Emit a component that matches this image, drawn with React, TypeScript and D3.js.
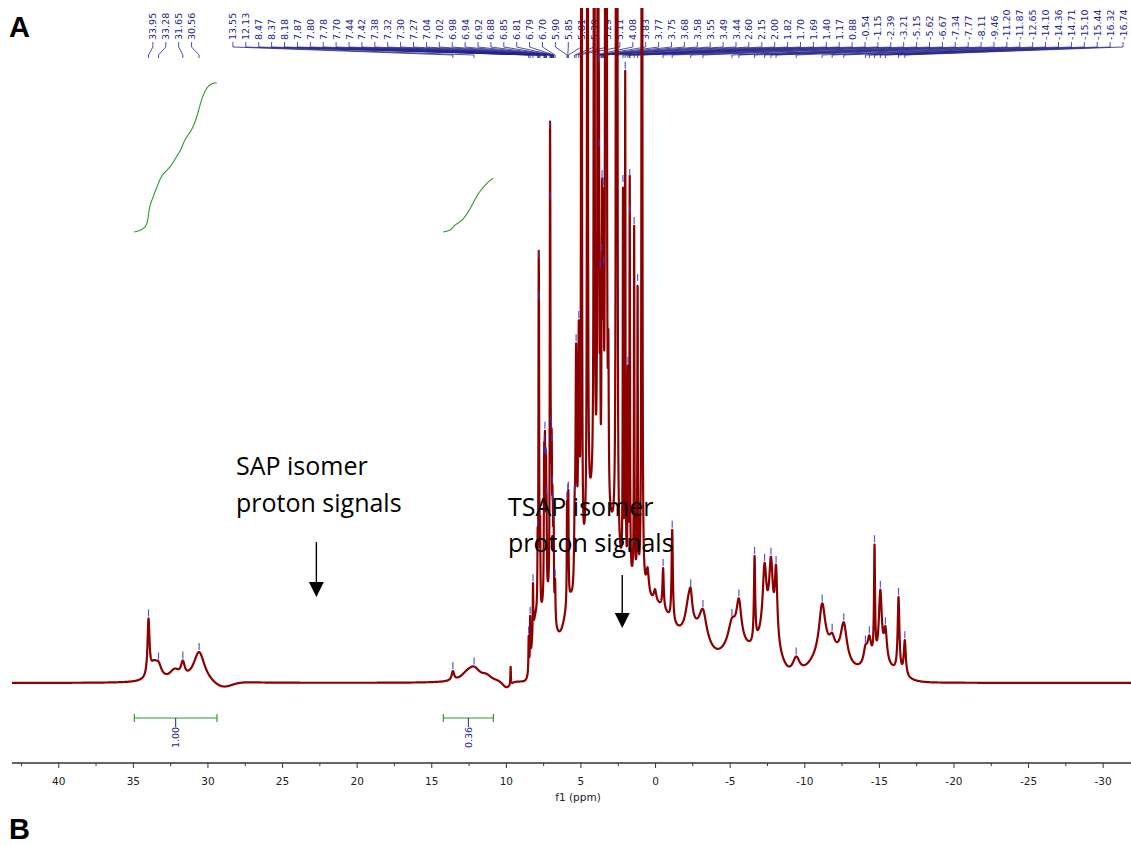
import React, { useEffect, useRef } from 'react';
import * as d3 from 'd3';

// sharp signals: [ppm, height, half-width in ppm]
const sharpPeaks: [number, number, number][] = [
  [33.95, 56, 0.08], [33.6, 14, 0.3], [33.28, 12, 0.25], [32.2, 10, 0.4], [31.65, 14, 0.15], [30.56, 30, 0.45],
  [13.55, 9, 0.1], [12.6, 6, 0.5], [12.13, 12, 0.5], [11.3, 5, 0.4], [9.68, 18, 0.02],
  [8.47, 35, 0.02], [8.37, 45, 0.02], [8.18, 50, 0.02], [7.87, 60, 0.02], [7.8, 260, 0.02], [7.78, 180, 0.02],
  [7.7, 80, 0.02], [7.44, 90, 0.02], [7.42, 80, 0.02], [7.38, 130, 0.02], [7.32, 80, 0.02], [7.3, 70, 0.02],
  [7.27, 60, 0.02], [7.04, 360, 0.02], [7.02, 200, 0.02], [6.98, 80, 0.02], [6.94, 90, 0.02], [6.92, 80, 0.02],
  [6.88, 70, 0.02], [6.85, 60, 0.02], [6.81, 60, 0.02], [6.79, 50, 0.02], [6.7, 40, 0.03],
  [5.9, 90, 0.02], [5.85, 80, 0.02], [5.81, 90, 0.02], [5.39, 60, 0.04], [5.29, 240, 0.05], [5.11, 250, 0.05],
  [4.93, 3000, 0.015], [4.53, 3000, 0.015], [4.08, 3000, 0.015], [3.83, 3000, 0.015],
  [3.77, 180, 0.02], [3.75, 150, 0.02], [3.68, 180, 0.02], [3.58, 150, 0.02], [3.55, 240, 0.02],
  [3.49, 250, 0.02], [3.44, 150, 0.02], [3.32, 3000, 0.015], [3.26, 3000, 0.015], [3.13, 140, 0.03],
  [2.6, 3000, 0.015], [2.54, 2000, 0.015], [2.15, 380, 0.02], [2.0, 500, 0.02], [1.82, 200, 0.02],
  [1.7, 300, 0.02], [1.69, 120, 0.02], [1.4, 350, 0.02], [1.17, 290, 0.02], [0.88, 3000, 0.015],
  [0.5, 25, 0.1], [0.0, 12, 0.1], [-0.54, 40, 0.05], [-1.15, 92, 0.05], [-2.25, 28, 0.25], [-2.39, 20, 0.12],
  [-3.21, 30, 0.3], [-5.15, 22, 0.3], [-5.62, 40, 0.2], [-6.67, 85, 0.05], [-7.34, 65, 0.15], [-7.77, 70, 0.15],
  [-8.11, 70, 0.1], [-9.46, 18, 0.3], [-11.2, 50, 0.25], [-11.87, 12, 0.2], [-12.65, 38, 0.25],
  [-14.1, 15, 0.15], [-14.36, 24, 0.15], [-14.71, 110, 0.04], [-15.1, 70, 0.12], [-15.44, 32, 0.12],
  [-16.32, 75, 0.07], [-16.74, 35, 0.08],
];

// broad humps / baseline dips under the sharp lines: [ppm, height, sigma in ppm]
const broadBands: [number, number, number][] = [
  [29.0, -6, 0.6], [9.95, -6, 0.25],
  [8.05, 45, 0.22], [7.35, 70, 0.4], [6.5, 35, 0.5], [5.7, 60, 0.35], [4.2, 170, 0.6], [2.9, 110, 0.5],
  [1.5, 85, 0.8], [-0.3, 65, 0.9], [-2.6, 45, 1.0], [-5.5, 35, 1.0], [-7.6, 40, 0.7], [-11.6, 28, 1.1],
  [-15.0, 16, 1.1],
];

const leftLabels = [33.95, 33.28, 31.65, 30.56];
const mainLabels = [
  13.55, 12.13, 8.47, 8.37, 8.18, 7.87, 7.8, 7.78, 7.7, 7.44, 7.42, 7.38, 7.32, 7.3, 7.27, 7.04, 7.02, 6.98,
  6.94, 6.92, 6.88, 6.85, 6.81, 6.79, 6.7, 5.9, 5.85, 5.81, 5.39, 5.29, 5.11, 4.08, 3.83, 3.77, 3.75, 3.68,
  3.58, 3.55, 3.49, 3.44, 2.6, 2.15, 2.0, 1.82, 1.7, 1.69, 1.4, 1.17, 0.88, -0.54, -1.15, -2.39, -3.21, -5.15,
  -5.62, -6.67, -7.34, -7.77, -8.11, -9.46, -11.2, -11.87, -12.65, -14.1, -14.36, -14.71, -15.1, -15.44,
  -16.32, -16.74,
];

const integralRanges: [number, number][] = [[34.9, 29.36], [14.19, 10.84]];
const integralValues = ['1.00', '0.36'];

const majorTicks = d3.range(40, -31, -5);
const minorTicks = d3.range(42.5, -32, -5);

const sapText = ['SAP isomer', 'proton signals'];
const tsapText = ['TSAP isomer', 'proton signals'];

const W = 1131;
const H = 845;
const STEP = 0.004;
const BLUE = '#24248c';
const RED = '#8b0000';
const GREEN = '#2f9a2f';

function intensity(p: number) {
  let v = 0;
  for (const [c, h, w] of sharpPeaks) {
    const d = (p - c) / w;
    v += h / (1 + d * d);
  }
  for (const [c, h, s] of broadBands) {
    const d = p - c;
    v += h * Math.exp(-(d * d) / (2 * s * s));
  }
  return v;
}

const x = d3.scaleLinear().domain([43.1, -31.9]).range([12, W]);
const y = d3.scaleLinear().domain([0, 600]).range([683, 83]);

const spectrum = d3.range(43.1, -31.9, -STEP).map((p) => ({ p, v: intensity(p) }));

// running integrals over each bracketed region
const integrals = integralRanges.map(([a, b]) => {
  let acc = 0;
  return d3.range(a, b, -STEP).map((p) => {
    acc += intensity(p) * STEP;
    return { p, v: acc };
  });
});
const intY = d3
  .scaleLinear()
  .domain([0, integrals[0][integrals[0].length - 1].v])
  .range([232, 83]);

const SPACING = 12.9;
function labelPositions(labels: number[], anchor: 'center' | 'right') {
  const n = labels.length;
  let start;
  if (anchor === 'center') start = d3.mean(labels, (l) => x(l))! - ((n - 1) * SPACING) / 2;
  else start = W - 8 - (n - 1) * SPACING;
  return labels.map((l, i) => ({ ppm: l, lx: start + i * SPACING, px: x(l) }));
}

const App = () => {
  const axisRef = useRef<SVGGElement>(null);

  useEffect(() => {
    const g = d3.select(axisRef.current);
    g.selectAll('*').remove();
    const major = d3
      .axisBottom(x)
      .tickValues(majorTicks)
      .tickSize(5)
      .tickPadding(10)
      .tickFormat((d) => String(d));
    const minor = d3.axisBottom(x).tickValues(minorTicks).tickSize(3).tickFormat(() => '');
    g.append('g').call(major).call((s) => s.select('.domain').remove());
    g.append('g').call(minor).call((s) => s.select('.domain').remove());
    g.selectAll('line').attr('stroke', '#333');
    g.selectAll('text').attr('font-family', 'DejaVu Sans').attr('font-size', 10.5).attr('fill', '#222');
  }, []);

  const line = d3
    .line<{ p: number; v: number }>()
    .x((d) => x(d.p))
    .y((d) => y(d.v));
  const intLine = d3
    .line<{ p: number; v: number }>()
    .x((d) => x(d.p))
    .y((d) => intY(d.v));

  const groups = [labelPositions(leftLabels, 'center'), labelPositions(mainLabels, 'right')];

  const arrow = (ax: number, y0: number, y1: number) => (
    <g>
      <line x1={ax} x2={ax} y1={y0} y2={y1} stroke="#000" strokeWidth={1.4} />
      <path d={`M${ax - 7.5},${y1} L${ax + 7.5},${y1} L${ax},${y1 + 15} Z`} fill="#000" />
    </g>
  );

  return (
    <svg width={W} height={H} style={{ position: 'absolute', left: 0, top: 0, background: '#fff' }}>
      <defs>
        <clipPath id="plotClip">
          <rect x={12} y={8} width={W - 12} height={H - 8} />
        </clipPath>
      </defs>

      <text x={9} y={37} fontFamily="Liberation Sans" fontWeight="bold" fontSize={29} fill="#000">A</text>
      <text x={9} y={839} fontFamily="Liberation Sans" fontWeight="bold" fontSize={29} fill="#000">B</text>

      {/* peak labels and their leader lines */}
      {groups.map((grp, gi) => (
        <g key={gi}>
          {grp.map((d, i) => (
            <g key={i}>
              <text
                transform={`translate(${d.lx + 3.5},40) rotate(-90)`}
                fontFamily="DejaVu Sans"
                fontSize={9.5}
                fill={BLUE}
              >
                {d.ppm.toFixed(2)}
              </text>
              <path
                d={`M${d.lx},42 V47 L${d.px},55 V58`}
                fill="none"
                stroke={BLUE}
                strokeWidth={0.8}
              />
            </g>
          ))}
        </g>
      ))}

      {/* integral curves */}
      {integrals.map((pts, i) => (
        <path key={i} d={intLine(pts) || ''} fill="none" stroke={GREEN} strokeWidth={1.1} />
      ))}

      {/* spectrum */}
      <g clipPath="url(#plotClip)">
        <path d={line(spectrum) || ''} fill="none" stroke={RED} strokeWidth={2.2} strokeLinejoin="round" />
      </g>

      {/* peak-pick marks on the trace */}
      {groups.flat().map((d, i) => {
        const ty = y(intensity(d.ppm));
        if (ty < 16) return null;
        return (
          <line key={i} x1={d.px} x2={d.px} y1={ty - 9} y2={ty - 2} stroke="#3a3ad6" strokeWidth={1.2} opacity={0.85} />
        );
      })}

      {/* integration brackets */}
      {integralRanges.map(([a, b], i) => {
        const x0 = x(a);
        const x1 = x(b);
        const xm = (x0 + x1) / 2;
        return (
          <g key={i}>
            <line x1={x0} x2={x1} y1={718} y2={718} stroke={GREEN} strokeWidth={1.2} />
            <line x1={x0} x2={x0} y1={714} y2={722} stroke={GREEN} strokeWidth={1.2} />
            <line x1={x1} x2={x1} y1={714} y2={722} stroke={GREEN} strokeWidth={1.2} />
            <line x1={xm} x2={xm} y1={718} y2={727} stroke={BLUE} strokeWidth={1} />
            <text
              transform={`translate(${xm + 3.5},748) rotate(-90)`}
              fontFamily="DejaVu Sans"
              fontSize={9.5}
              fill={BLUE}
            >
              {integralValues[i]}
            </text>
          </g>
        );
      })}

      {/* annotations */}
      <g fontFamily="Open Sans" fontSize={25} fill="#000">
        <text x={236} y={475}>{sapText[0]}</text>
        <text x={236} y={512}>{sapText[1]}</text>
        <text x={508} y={516}>{tsapText[0]}</text>
        <text x={508} y={552}>{tsapText[1]}</text>
      </g>
      {arrow(x(22.7), 542, 582)}
      {arrow(x(2.2), 575, 613)}

      {/* x axis */}
      <line x1={12} x2={W} y1={763} y2={763} stroke="#333" strokeWidth={1.5} />
      <g ref={axisRef} transform="translate(0,763)" />
      <text x={578} y={801} textAnchor="middle" fontFamily="DejaVu Sans" fontSize={10.5} fill="#222">
        f1 (ppm)
      </text>
    </svg>
  );
};

export default App;
